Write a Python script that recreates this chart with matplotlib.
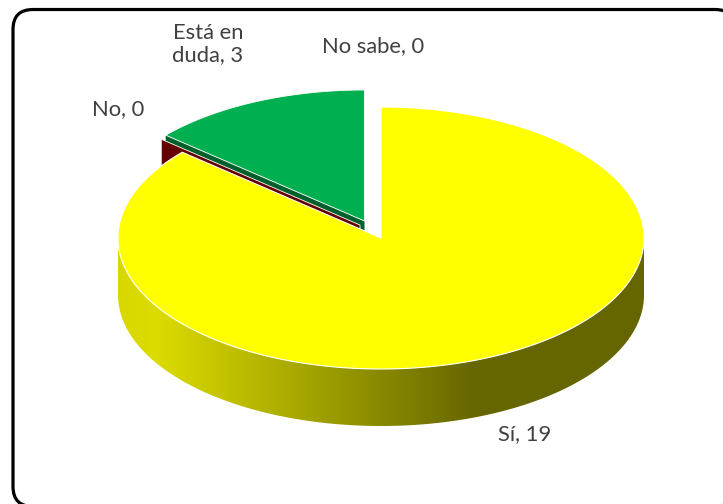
"""Exploded 3D-look pie chart, drawn on a pixel-sized axes."""

import matplotlib

matplotlib.use("Agg")
import matplotlib.pyplot as plt
import numpy as np
from matplotlib.colors import LinearSegmentedColormap
from matplotlib.patches import FancyBboxPatch, Polygon

labels = ["Sí", "No", "Está en\nduda", "No sabe"]
values = [19, 0, 3, 0]

W, H = 723, 504
RX, RY = 263, 131
DEPTH = 57

# where each slice's tip ends up after the explode
APEX = {"Sí": (381, 238), "No": (360, 225), "Está en\nduda": (364.5, 221)}
LABEL_POS = {
    "Sí": (525, 434),
    "No": (118, 109),
    "Está en\nduda": (208, 44),
    "No sabe": (373, 46),
}
TOP_COLORS = {"Sí": "#FFFF00", "Está en\nduda": "#00B050"}
WALL_COLORS = {"No": "#640000", "Está en\nduda": "#00602C"}
TEXT_COLOR = "#404040"

plt.rcParams["font.family"] = ["Lato", "DejaVu Sans"]


def rim_point(apex, theta):
    # theta is clockwise from 12 o'clock, in radians
    return apex[0] + RX * np.sin(theta), apex[1] - RY * np.cos(theta)


def top_polygon(apex, start, end):
    thetas = np.linspace(start, end, 300)
    xs, ys = rim_point(apex, thetas)
    return np.column_stack([np.r_[apex[0], xs], np.r_[apex[1], ys]])


def radial_wall(apex, theta):
    x, y = rim_point(apex, theta)
    return [apex, (x, y), (x, y + DEPTH), (apex[0], apex[1] + DEPTH)]


# slice angles, clockwise from the top
fracs = np.array(values, dtype=float) / sum(values)
ends = np.cumsum(fracs) * 2 * np.pi
starts = ends - fracs * 2 * np.pi
angle = {lab: (s, e) for lab, s, e in zip(labels, starts, ends)}

fig = plt.figure(figsize=(W / 100, H / 100), dpi=100)
ax = fig.add_axes([0, 0, 1, 1])
ax.set_axis_off()

# chart frame runs slightly off the picture on the right and bottom
ax.add_patch(
    FancyBboxPatch(
        (33, 29.5),
        682,
        457,
        boxstyle="round,pad=20,rounding_size=20",
        fc="white",
        ec="black",
        lw=2.3,
        zorder=1,
    )
)

# green slice: wall first, then the top
lab = "Está en\nduda"
ax.add_patch(
    Polygon(radial_wall(APEX[lab], angle[lab][0]), fc=WALL_COLORS[lab], ec="none", zorder=2)
)
ax.add_patch(
    Polygon(top_polygon(APEX[lab], *angle[lab]), fc=TOP_COLORS[lab], ec="white", lw=0.6, zorder=3)
)

# "No" has no width, so only its wall can be seen
lab = "No"
ax.add_patch(
    Polygon(radial_wall(APEX[lab], angle[lab][0]), fc=WALL_COLORS[lab], ec="white", lw=0.6, zorder=4)
)

# yellow slice: outer wall with a horizontal gradient, then the top
lab = "Sí"
ax_pt = APEX[lab]
th = np.linspace(np.pi / 2, 3 * np.pi / 2, 300)
x_rim, y_rim = rim_point(ax_pt, th)
side = np.column_stack(
    [np.r_[x_rim, x_rim[::-1]], np.r_[y_rim + DEPTH, y_rim[::-1]]]
)
side_patch = Polygon(side, fc="none", ec="none", zorder=5)
ax.add_patch(side_patch)
side_cmap = LinearSegmentedColormap.from_list(
    "side",
    [(0, "#D8D800"), (0.07, "#DCDC00"), (0.68, "#666600"), (1, "#666600")],
)
grad = ax.imshow(
    np.linspace(0, 1, 512)[None, :],
    cmap=side_cmap,
    extent=(ax_pt[0] - RX, ax_pt[0] + RX, ax_pt[1] + RY + DEPTH, ax_pt[1] - RY),
    aspect="auto",
    zorder=5,
)
grad.set_clip_path(side_patch)
ax.add_patch(
    Polygon(top_polygon(ax_pt, *angle[lab]), fc=TOP_COLORS[lab], ec="white", lw=0.8, zorder=6)
)

for lab, val in zip(labels, values):
    x, y = LABEL_POS[lab]
    ax.text(
        x,
        y,
        f"{lab}, {val}",
        ha="center",
        va="center",
        fontsize=15.8,
        color=TEXT_COLOR,
        linespacing=1.15,
        zorder=7,
    )

ax.set_xlim(0, W)
ax.set_ylim(H, 0)
fig.savefig("out.png", dpi=100, facecolor="white")
plt.close(fig)
